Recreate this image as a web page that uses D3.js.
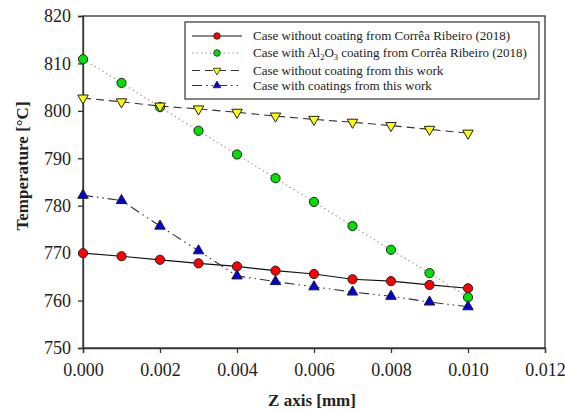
<!DOCTYPE html>
<html><head><meta charset="utf-8">
<script src="https://cdn.jsdelivr.net/npm/d3@7/dist/d3.min.js"></script>
<style>body{margin:0;background:#fff} svg text{font-family:"Liberation Serif","Times New Roman",serif !important;}</style>
</head><body>
<svg id="c" width="565" height="412"></svg>
<script>
const zValues = [0,0.001,0.002,0.003,0.004,0.005,0.006,0.007,0.008,0.009,0.010];
const redNoCoatingRibeiro = [770.0,769.35,768.6,767.85,767.2,766.3,765.6,764.5,764.1,763.3,762.6];
const greenAl2O3Ribeiro   = [810.9,805.9,800.8,795.8,790.8,785.8,780.8,775.7,770.7,765.8,760.7];
const yellowNoCoatingThis = [802.7,801.9,801.0,800.4,799.7,798.9,798.2,797.6,796.9,796.1,795.3];
const blueCoatingsThis    = [782.2,781.1,775.7,770.5,765.2,764.0,762.9,761.8,760.9,759.7,758.7];
const xTicks = [0,0.002,0.004,0.006,0.008,0.010,0.012];
const yTicks = [750,760,770,780,790,800,810,820];
const legendLabels = [
  "Case without coating from Corrêa Ribeiro (2018)",
  "Case with Al2O3 coating from Corrêa Ribeiro (2018)",
  "Case without coating from this work",
  "Case with coatings from this work"
];

const svg = d3.select("#c");
const L=83, R=545, T=16, B=348;
const x = d3.scaleLinear().domain([0,0.012]).range([L,R]);
const y = d3.scaleLinear().domain([750,820]).range([B,T]);
const font = "'Liberation Serif','Times New Roman',serif";

svg.append("rect").attr("x",L).attr("y",T).attr("width",R-L).attr("height",B-T)
  .attr("fill","none").attr("stroke","#333").attr("stroke-width",1.3);

const xa = svg.append("g").attr("transform",`translate(0,${B})`)
  .call(d3.axisBottom(x).tickValues(xTicks).tickFormat(d3.format(".3f")).tickSizeOuter(0).tickSize(5).tickPadding(10));
const ya = svg.append("g").attr("transform",`translate(${L},0)`)
  .call(d3.axisLeft(y).tickValues(yTicks).tickFormat(d3.format("d")).tickSizeOuter(0).tickSize(5).tickPadding(7));
[xa,ya].forEach(a=>{
  a.attr("font-family",font).attr("font-size",18);
  a.select(".domain").attr("stroke","#333").attr("stroke-width",1.3);
  a.selectAll(".tick line").attr("stroke","#333").attr("stroke-width",1.3);
  a.selectAll("text").attr("font-family",font).attr("font-size",18).attr("fill","#222");
});

svg.append("text").attr("x",312).attr("y",406).attr("text-anchor","middle")
  .attr("font-family",font).attr("font-weight","bold").attr("font-size",17).attr("fill","#222").text("Z axis [mm]");
svg.append("text").attr("transform","translate(28,166) rotate(-90)").attr("text-anchor","middle")
  .attr("font-family",font).attr("font-weight","bold").attr("font-size",17).attr("fill","#222").text("Temperature [°C]");

const series = [
  {vals:redNoCoatingRibeiro, stroke:"#111", dash:null, w:1.2, fill:"#ff0000", shape:"circle"},
  {vals:greenAl2O3Ribeiro, stroke:"#999", dash:"1.5,3", w:1.1, fill:"#00e000", shape:"circle"},
  {vals:yellowNoCoatingThis, stroke:"#333", dash:"8,5", w:1.1, fill:"#ffff00", shape:"down"},
  {vals:blueCoatingsThis, stroke:"#333", dash:"10,4,1.5,4,1.5,4", w:1.1, fill:"#0000dd", shape:"up"}
];
const line = d3.line().x((d,i)=>x(zValues[i])).y(d=>y(d));
const tri = d3.symbol().type(d3.symbolTriangle).size(48);

function marker(g, s, cx, cy){
  if(s.shape==="circle"){
    g.append("circle").attr("cx",cx).attr("cy",cy).attr("r",4.6).attr("fill",s.fill).attr("stroke","#222").attr("stroke-width",1);
  } else {
    g.append("path").attr("d",tri()).attr("transform",`translate(${cx},${cy})${s.shape==="down"?" rotate(180)":""}`)
      .attr("fill",s.fill).attr("stroke","#222").attr("stroke-width",1);
  }
}
series.forEach(s=>{
  svg.append("path").datum(s.vals).attr("d",line).attr("fill","none")
    .attr("stroke",s.stroke).attr("stroke-width",s.w).attr("stroke-dasharray",s.dash);
});
series.forEach(s=>{
  const g = svg.append("g");
  s.vals.forEach((v,i)=>marker(g,s,x(zValues[i]),y(v)));
});

const lg = svg.append("g");
lg.append("rect").attr("x",185).attr("y",22).attr("width",354).attr("height",77)
  .attr("fill","#fff").attr("stroke","#333").attr("stroke-width",1.2);
const rowsY=[36,53,70.5,85.5];
series.forEach((s,i)=>{
  lg.append("line").attr("x1",192).attr("x2",242).attr("y1",rowsY[i]).attr("y2",rowsY[i])
    .attr("stroke",s.stroke).attr("stroke-width",s.w).attr("stroke-dasharray",s.dash);
  if(s.shape==="circle"){
    lg.append("circle").attr("cx",217).attr("cy",rowsY[i]).attr("r",3.3).attr("fill",s.fill).attr("stroke","#222").attr("stroke-width",0.8);
  } else {
    lg.append("path").attr("d",d3.symbol().type(d3.symbolTriangle).size(26)()).attr("transform",`translate(217,${rowsY[i]})${s.shape==="down"?" rotate(180)":""}`)
      .attr("fill",s.fill).attr("stroke","#222").attr("stroke-width",0.8);
  }
  const t = lg.append("text").attr("x",253).attr("y",rowsY[i]+4).attr("font-family",font).attr("font-size",13).attr("fill","#222");
  if(i===1){
    t.append("tspan").text("Case with Al");
    t.append("tspan").attr("dy",3).attr("font-size",8.5).text("2");
    t.append("tspan").attr("dy",-3).text("O");
    t.append("tspan").attr("dy",3).attr("font-size",8.5).text("3");
    t.append("tspan").attr("dy",-3).text(" coating from Corrêa Ribeiro (2018)");
  } else t.text(legendLabels[i]);
});
</script>
</body></html>
